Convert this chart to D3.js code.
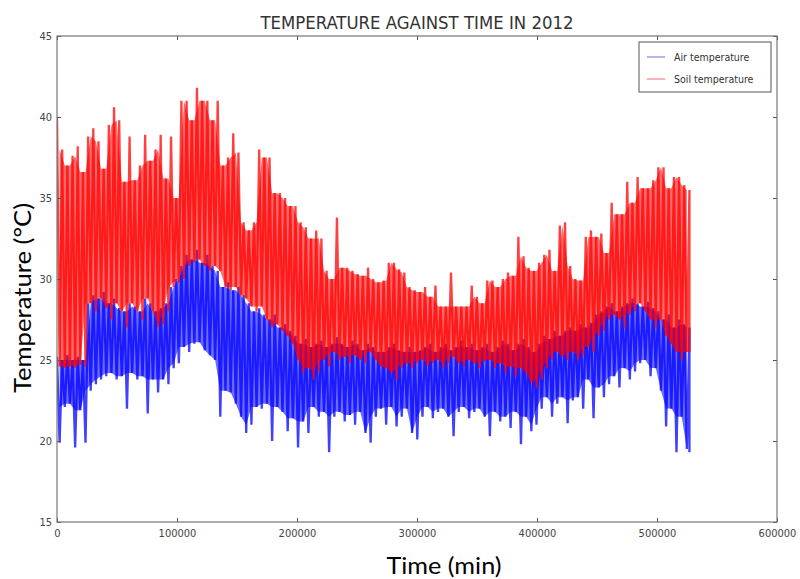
<!DOCTYPE html>
<html>
<head>
<meta charset="utf-8">
<script src="https://cdn.jsdelivr.net/npm/d3@7"></script>
<style>
body { margin: 0; background: #fff; }
svg { display: block; }
</style>
</head>
<body>
<div id="chart"></div>
<script>
var width = 800, height = 579;
var margin = {top: 36, right: 23, bottom: 57, left: 57};
var plot_w = width - margin.left - margin.right,
    plot_h = height - margin.top - margin.bottom;

// one sample every 3 days (4320 min), 0 .. 527040 min
var sampleStep = 4320;
var xTicks = [0, 100000, 200000, 300000, 400000, 500000, 600000];
var yTicks = [15, 20, 25, 30, 35, 40, 45];
var seriesNames = ["Air temperature", "Soil temperature"];

// daily peaks / troughs, per 3-day sample
var soilHigh = [40.0,38.0,37.0,37.6,38.2,36.6,38.8,39.3,38.5,36.8,39.5,40.6,39.8,36.0,38.8,36.1,37.0,38.9,37.3,38.0,
  38.9,36.2,38.8,35.0,41.0,41.0,39.8,41.8,41.0,41.0,39.8,41.0,37.0,37.5,39.0,37.8,33.5,33.0,33.5,38.0,
  37.5,37.5,35.3,35.3,35.0,34.5,34.5,33.5,33.2,32.5,33.0,32.5,30.5,30.0,33.8,30.7,30.7,30.5,30.3,30.2,
  30.7,30.0,29.8,29.9,31.0,31.0,30.6,30.4,29.5,29.3,29.2,29.5,28.9,29.6,28.3,28.3,30.4,28.3,28.3,28.3,
  29.6,28.9,28.5,29.9,29.9,29.5,30.0,30.4,30.2,32.6,31.4,30.7,30.5,31.0,31.5,31.8,30.5,33.3,33.5,30.8,
  30.0,29.9,32.6,33.0,32.6,32.8,31.6,34.7,34.0,34.0,36.0,34.7,36.3,35.6,35.6,36.1,36.9,36.9,35.6,36.3,
  36.3,35.8,35.5];
var soilLow = [24.6,24.5,24.6,24.5,24.7,24.6,28.5,28.0,28.8,28.2,27.5,28.5,28.0,27.0,28.5,28.0,27.5,28.8,28.0,27.0,
  27.2,28.0,29.5,29.8,30.0,30.8,31.0,31.2,30.8,30.5,30.8,30.5,29.5,29.3,29.5,29.0,28.8,28.3,28.0,28.3,
  27.5,27.0,27.2,26.8,26.5,26.0,25.0,24.2,24.5,23.8,24.3,25.0,24.6,25.5,25.0,25.2,24.8,25.3,25.0,24.8,
  25.5,25.0,24.6,24.5,24.2,23.8,24.5,24.8,24.5,24.8,25.0,24.6,24.8,25.0,24.5,24.8,25.2,24.8,24.6,25.0,
  24.8,24.5,24.9,25.0,24.5,24.8,24.2,24.6,24.0,24.5,24.2,23.6,23.3,23.8,24.5,25.0,25.5,25.2,25.0,25.5,
  25.0,25.3,25.8,25.5,26.5,26.8,27.5,27.8,27.5,27.0,27.8,28.0,28.5,28.0,27.5,27.0,27.5,26.5,26.0,25.5,
  25.0,25.5,25.5];
var airHigh = [25.2,25.0,25.3,25.0,25.2,25.0,28.5,29.0,28.8,29.2,28.5,28.8,28.2,28.0,28.5,28.3,28.0,28.8,28.5,28.0,
  28.2,28.5,29.5,30.0,30.8,31.5,31.2,31.8,31.0,31.5,30.8,30.5,29.5,29.8,29.3,29.5,29.0,28.5,28.0,28.2,
  27.8,27.5,27.8,27.0,27.2,26.8,26.5,26.0,26.3,25.8,26.0,26.2,25.8,26.0,26.4,26.0,25.8,26.2,26.0,25.6,
  26.0,25.8,25.5,25.5,25.8,26.0,25.6,25.5,25.8,25.5,25.6,25.8,26.0,25.5,25.8,26.0,25.6,25.8,26.2,25.8,
  26.0,25.6,25.8,26.0,25.5,25.8,26.2,26.0,25.6,26.0,26.3,25.8,25.5,26.0,26.5,26.3,26.8,26.5,26.8,27.0,
  26.8,27.2,27.0,27.3,27.8,28.0,28.3,28.5,28.0,28.3,28.5,28.8,28.5,28.3,28.6,28.2,28.0,27.5,27.8,27.0,
  27.5,27.2,27.0];
var airLow = [19.9,22.1,22.3,19.6,21.9,19.9,23.1,23.5,23.8,24.0,24.2,23.8,24.0,22.0,24.2,23.8,24.0,21.7,23.8,23.0,
  23.8,23.5,24.5,24.8,25.8,25.5,26.0,26.1,25.6,25.3,25.0,21.5,23.1,23.0,22.3,21.5,20.5,21.0,22.1,22.0,
  22.3,20.0,22.1,21.8,20.6,21.4,19.6,21.2,20.5,22.1,21.5,21.8,19.3,21.5,21.8,21.2,21.6,21.0,21.8,20.5,
  19.9,21.5,22.0,21.0,22.1,20.9,21.5,22.0,20.5,20.1,21.5,22.1,21.4,21.8,22.0,21.5,20.3,21.8,22.1,21.4,
  21.8,22.0,21.5,20.3,21.8,21.2,21.5,20.8,21.8,19.8,21.5,20.6,21.0,22.0,22.7,21.5,22.3,22.7,21.1,22.5,
  22.7,22.0,23.8,21.4,23.3,22.7,23.5,24.0,23.3,24.5,23.8,24.3,24.8,25.0,24.0,24.5,23.1,20.9,22.0,19.3,
  21.5,19.5,19.3];

var colors = {"Air temperature": "#0000ff", "Soil temperature": "#ff0000"};

var svg = d3.select("#chart")
  .append("svg")
  .attr("width", width)
  .attr("height", height);

var x = d3.scaleLinear().domain([0, 600000]).range([margin.left, margin.left + plot_w]);
var y = d3.scaleLinear().domain([15, 45]).range([margin.top + plot_h, margin.top]);

svg.append("clipPath").attr("id", "clip")
  .append("rect")
  .attr("x", margin.left).attr("y", margin.top)
  .attr("width", plot_w).attr("height", plot_h);

// highs and lows alternate, half a step apart
function zigzag(highs, lows) {
  var pts = [];
  var tEnd = (highs.length - 1) * sampleStep;
  highs.forEach(function(h, i) {
    var t = i * sampleStep;
    pts.push({t: t, v: h});
    pts.push({t: Math.min(t + sampleStep / 2, tEnd), v: lows[i]});
  });
  return pts;
}
// band that the signal always covers between neighbouring peaks/troughs
function core(highs, lows) {
  var pts = [];
  for (var i = 0; i < highs.length - 1; i++) {
    pts.push({t: i * sampleStep + sampleStep / 2,
      top: Math.min(highs[i], highs[i + 1]),
      bot: Math.max(lows[i], lows[i + 1])});
  }
  return pts;
}

var line = d3.line()
  .x(function(d) { return x(d.t); })
  .y(function(d) { return y(d.v); });
var area = d3.area()
  .x(function(d) { return x(d.t); })
  .y0(function(d) { return y(d.bot); })
  .y1(function(d) { return y(d.top); });

var series = [
  {name: "Air temperature", pts: zigzag(airHigh, airLow), band: core(airHigh, airLow)},
  {name: "Soil temperature", pts: zigzag(soilHigh, soilLow), band: core(soilHigh, soilLow)}
];

var s = svg.append("g")
  .attr("clip-path", "url(#clip)")
  .selectAll(".series")
  .data(series)
  .enter()
  .append("g")
  .attr("class", "series");

s.append("path")
  .attr("d", function(d) { return area(d.band); })
  .attr("fill", function(d) { return colors[d.name]; })
  .attr("fill-opacity", 0.58);

s.append("path")
  .attr("d", function(d) { return line(d.pts); })
  .attr("fill", "none")
  .attr("stroke", function(d) { return colors[d.name]; })
  .attr("stroke-opacity", 0.75)
  .attr("stroke-width", 2.3);

// axes, matplotlib style: ticks inside, on all four sides
var tickFont = "'DejaVu Sans Condensed', 'DejaVu Sans', sans-serif";

svg.append("g")
  .attr("transform", "translate(0," + (margin.top + plot_h) + ")")
  .call(d3.axisBottom(x).tickValues(xTicks).tickFormat(d3.format("d")).tickSize(-4).tickPadding(7));
svg.append("g")
  .attr("transform", "translate(" + margin.left + ",0)")
  .call(d3.axisLeft(y).tickValues(yTicks).tickSize(-4).tickPadding(5));
svg.append("g")
  .attr("transform", "translate(0," + margin.top + ")")
  .call(d3.axisTop(x).tickValues(xTicks).tickFormat("").tickSize(-4));
svg.append("g")
  .attr("transform", "translate(" + (margin.left + plot_w) + ",0)")
  .call(d3.axisRight(y).tickValues(yTicks).tickFormat("").tickSize(-4));

svg.selectAll(".domain").remove();
svg.selectAll(".tick line").attr("stroke", "#555");
svg.selectAll(".tick text")
  .attr("fill", "#444")
  .style("font-family", tickFont)
  .style("font-size", "11px");

svg.append("rect")
  .attr("x", margin.left).attr("y", margin.top)
  .attr("width", plot_w).attr("height", plot_h)
  .attr("fill", "none")
  .attr("stroke", "#777")
  .attr("stroke-width", 1.2);

// title + axis labels
svg.append("text")
  .attr("x", margin.left + plot_w / 2)
  .attr("y", 29)
  .attr("text-anchor", "middle")
  .attr("textLength", 313)
  .attr("lengthAdjust", "spacingAndGlyphs")
  .style("font-family", tickFont)
  .style("font-size", "17px")
  .attr("fill", "#333")
  .text("TEMPERATURE AGAINST TIME IN 2012");

svg.append("text")
  .attr("x", 444)
  .attr("y", 574)
  .attr("text-anchor", "middle")
  .attr("textLength", 115)
  .attr("lengthAdjust", "spacingAndGlyphs")
  .style("font-family", "Lato, 'Open Sans', sans-serif")
  .style("font-size", "23px")
  .attr("fill", "#000")
  .text("Time (min)");

svg.append("text")
  .attr("transform", "translate(31,298) rotate(-90)")
  .attr("text-anchor", "middle")
  .attr("textLength", 190)
  .attr("lengthAdjust", "spacingAndGlyphs")
  .style("font-family", "Lato, 'Open Sans', sans-serif")
  .style("font-size", "23px")
  .attr("fill", "#000")
  .text("Temperature (\u00B0C)");

// legend
var legend = svg.append("g").attr("transform", "translate(639,42)");
legend.append("rect")
  .attr("width", 132).attr("height", 50)
  .attr("fill", "#fff")
  .attr("stroke", "#555")
  .attr("stroke-width", 1);

var legendRow = legend.selectAll(".row")
  .data(seriesNames)
  .enter()
  .append("g")
  .attr("class", "row")
  .attr("transform", function(d, i) { return "translate(0," + (15 + i * 22) + ")"; });

legendRow.append("line")
  .attr("x1", 8).attr("x2", 26)
  .attr("stroke", function(d) { return colors[d]; })
  .attr("stroke-opacity", 0.5)
  .attr("stroke-width", 1.2);

legendRow.append("text")
  .attr("x", 35)
  .attr("dy", "0.35em")
  .attr("fill", "#333")
  .style("font-family", tickFont)
  .style("font-size", "10.5px")
  .text(function(d) { return d; });
</script>
</body>
</html>
